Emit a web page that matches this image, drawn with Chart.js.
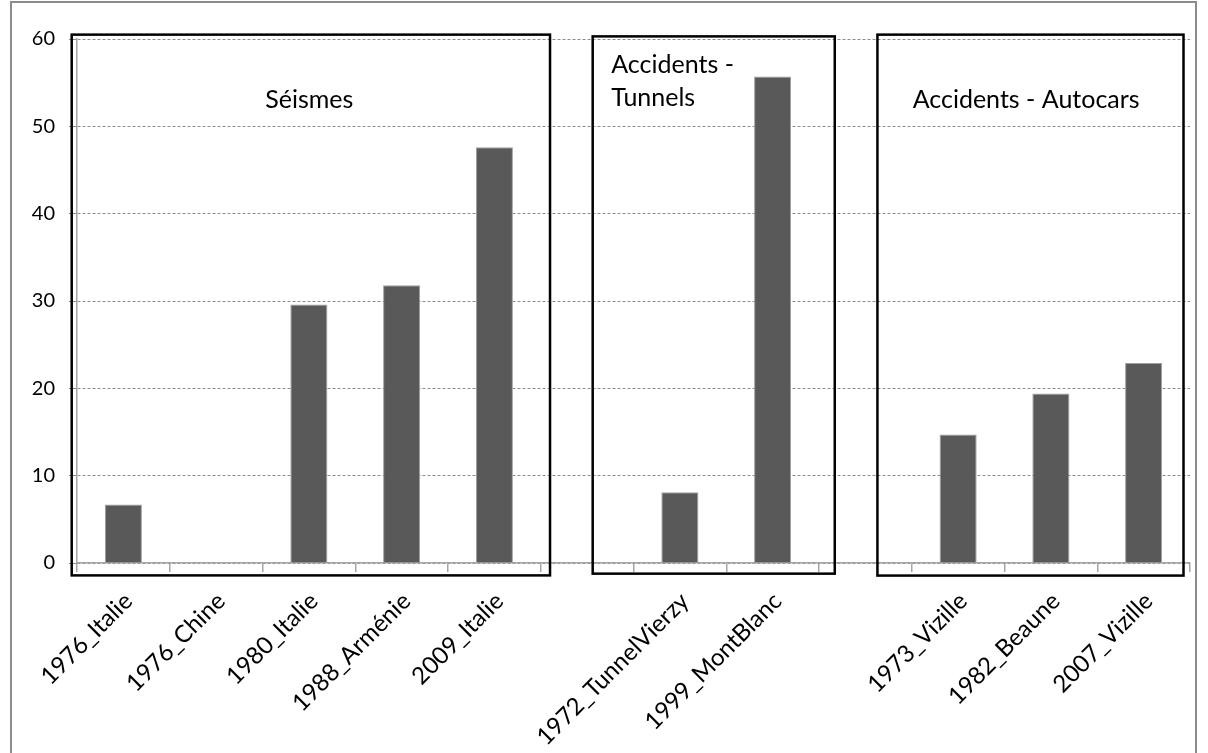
<!DOCTYPE html>
<html>
<head>
<meta charset="utf-8">
<script src="https://cdn.jsdelivr.net/npm/chart.js@4.4.1/dist/chart.umd.min.js"></script>
<style>
  html, body { margin: 0; padding: 0; background: #fff; }
  #wrap { position: relative; width: 1208px; height: 753px; overflow: hidden; }
  #frame { position: absolute; left: 10px; top: 1px; width: 1187px; height: 800px;
           border: 2px solid #8c8c8c; box-sizing: border-box; }
  #c { position: absolute; left: 0; top: 0; }
</style>
</head>
<body>
<div id="wrap">
  <div id="frame"></div>
  <canvas id="c" width="1208" height="753"></canvas>
</div>
<script>
// Categories (empty labels separate the three groups)
const categories = [
  '1976_Italie', '1976_Chine', '1980_Italie', '1988_Arménie', '2009_Italie',
  '',
  '1972_TunnelVierzy', '1999_MontBlanc',
  '',
  '1973_Vizille', '1982_Beaune', '2007_Vizille'
];
const values = [6.7, 0, 29.6, 31.8, 47.6, null, 8.1, 55.7, null, 14.7, 19.4, 22.9];
const yTicks = [0, 10, 20, 30, 40, 50, 60];

// Group captions
const groupSeismes = ['Séismes'];
const groupTunnels = ['Accidents -', 'Tunnels'];
const groupAutocars = ['Accidents - Autocars'];

// Group frames, in category units (x) and value units (y)
const frames = [
  { from: -0.557, to: 4.60, top: 60.5, bottom: -1.42 },
  { from: 5.06, to: 7.67, top: 60.3, bottom: -1.22 },
  { from: 8.13, to: 11.43, top: 60.5, bottom: -1.44 }
];
// Caption anchors (left edge, category units; vertical centre, value units)
const captions = [
  { lines: groupSeismes, x: 1.53, y: 53.0 },
  { lines: groupTunnels, x: 5.26, y: 57.05 },
  { lines: groupAutocars, x: 8.51, y: 53.0 }
];

const FONT = 'Lato, "Open Sans", sans-serif';

const groupPlugin = {
  id: 'groupFrames',
  afterDraw(chart) {
    const ctx = chart.ctx;
    const xs = chart.scales.x, ys = chart.scales.y;
    ctx.save();
    ctx.strokeStyle = '#000';
    ctx.lineWidth = 2.5;
    frames.forEach(f => {
      const x1 = xs.getPixelForValue(f.from), x2 = xs.getPixelForValue(f.to);
      const y1 = ys.getPixelForValue(f.top), y2 = ys.getPixelForValue(f.bottom);
      ctx.strokeRect(x1, y1, x2 - x1, y2 - y1);
    });
    ctx.fillStyle = '#000';
    ctx.font = '25px ' + FONT;
    ctx.textBaseline = 'middle';
    ctx.textAlign = 'left';
    const lineStep = ys.getPixelForValue(0) - ys.getPixelForValue(3.8);
    captions.forEach(c => {
      const x = xs.getPixelForValue(c.x);
      const y = ys.getPixelForValue(c.y);
      c.lines.forEach((t, i) => ctx.fillText(t, x, y + i * lineStep));
    });
    ctx.restore();
  }
};

new Chart(document.getElementById('c'), {
  type: 'bar',
  data: {
    labels: categories,
    datasets: [{
      data: values,
      backgroundColor: '#595959',
      borderColor: '#a0a0a0',
      borderWidth: 1,
      categoryPercentage: 1,
      barPercentage: 0.4
    }]
  },
  options: {
    responsive: false,
    animation: false,
    devicePixelRatio: 1,
    layout: { padding: { top: 39, right: 18, left: 0, bottom: 0 } },
    plugins: { legend: { display: false }, tooltip: { enabled: false } },
    scales: {
      x: {
        offset: true,
        grid: { offset: true, drawOnChartArea: false, drawTicks: true, tickLength: 9,
                color: '#a6a6a6', lineWidth: 1.5 },
        border: { color: '#a6a6a6', width: 1.5 },
        ticks: { autoSkip: false, minRotation: 45, maxRotation: 45, color: '#000',
                 font: { family: FONT, size: 24 }, padding: 15, labelOffset: 5 },
        afterFit(s) { s.height = 190; }
      },
      y: {
        min: 0, max: 60,
        afterBuildTicks(s) { s.ticks = yTicks.map(v => ({ value: v })); },
        grid: { color: '#8c8c8c', lineWidth: 1, tickLength: 8 },
        border: { display: true, color: '#a6a6a6', width: 1.5, dash: [3, 2] },
        ticks: { color: '#000', font: { family: FONT, size: 20 }, padding: 14 },
        afterFit(s) { s.width = 77; }
      }
    }
  },
  plugins: [groupPlugin]
});
</script>
</body>
</html>
